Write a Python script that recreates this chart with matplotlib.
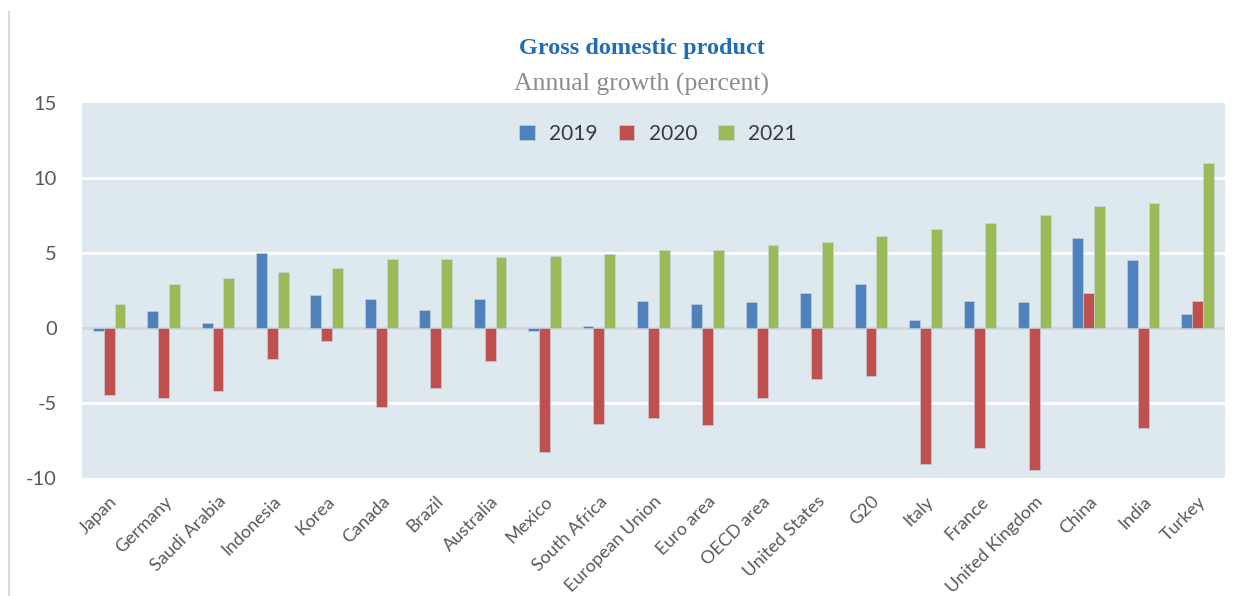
import numpy as np
import matplotlib
matplotlib.use("Agg")
import matplotlib.pyplot as plt
from matplotlib.lines import Line2D

# Data
countries = ["Japan", "Germany", "Saudi Arabia", "Indonesia", "Korea", "Canada",
             "Brazil", "Australia", "Mexico", "South Africa", "European Union",
             "Euro area", "OECD area", "United States", "G20", "Italy", "France",
             "United Kingdom", "China", "India", "Turkey"]
gdp_2019 = [-0.2, 1.1, 0.3, 5.0, 2.2, 1.9, 1.2, 1.9, -0.2, 0.1, 1.8,
            1.6, 1.7, 2.3, 2.9, 0.5, 1.8, 1.7, 6.0, 4.5, 0.9]
gdp_2020 = [-4.5, -4.7, -4.2, -2.1, -0.9, -5.3, -4.0, -2.2, -8.3, -6.4, -6.0,
            -6.5, -4.7, -3.4, -3.2, -9.1, -8.0, -9.5, 2.3, -6.7, 1.8]
gdp_2021 = [1.6, 2.9, 3.3, 3.7, 4.0, 4.6, 4.6, 4.7, 4.8, 4.9, 5.2,
            5.2, 5.5, 5.7, 6.1, 6.6, 7.0, 7.5, 8.1, 8.3, 11.0]
years = ["2019", "2020", "2021"]
colors = ["#4F81BD", "#C0504D", "#9BBB59"]
yticks = [-10, -5, 0, 5, 10, 15]

plt.rcParams["font.family"] = ["Lato", "DejaVu Sans"]

fig = plt.figure(figsize=(12.51, 5.96), dpi=100)
ax = fig.add_axes([0.0655, 0.198, 0.9135, 0.6292])
ax.set_facecolor("#DEE8EF")

x = np.arange(len(countries))
w = 0.2
for i, (vals, lab, col) in enumerate(zip([gdp_2019, gdp_2020, gdp_2021], years, colors)):
    ax.bar(x + (i - 1) * w, vals, width=w, color=col, label=lab, zorder=3,
           edgecolor="#C9D6E2", linewidth=0.4)

ax.set_xlim(-0.5, len(countries) - 0.5)
ax.set_ylim(-10, 15)
ax.set_yticks(yticks)
ax.set_yticklabels([str(t) for t in yticks])
for t in [-5, 5, 10]:
    ax.axhline(t, color="white", linewidth=2, zorder=1)
ax.axhline(0, color="#D6D6D6", linewidth=2, zorder=2)

for s in ax.spines.values():
    s.set_visible(False)
ax.tick_params(axis="y", length=0, pad=18, labelsize=14.5, labelcolor="#595959")
ax.tick_params(axis="x", length=0, pad=11, labelcolor="#595959")
ax.set_xticks(x)
ax.set_xticklabels(countries, rotation=45, ha="right", rotation_mode="anchor",
                   fontsize=13)

leg = ax.legend(loc="upper center", bbox_to_anchor=(0.504, 0.995), ncol=3, frameon=False,
                fontsize=15, handlelength=0.75, handleheight=0.75,
                handletextpad=0.7, columnspacing=1.0)
for t in leg.get_texts():
    t.set_color("#3A3A3A")

fig.text(0.513, 0.918, "Gross domestic product", ha="center", va="center",
         fontsize=17.5, fontweight="bold", color="#1F6DB4", family="Liberation Serif")
fig.text(0.513, 0.858, "Annual growth (percent)", ha="center", va="center",
         fontsize=18.5, color="#8C8C8C", family="Liberation Serif")

fig.add_artist(Line2D([0.0072, 0.0072], [0.0, 0.98], color="#D9D9D9", linewidth=1.5,
                      transform=fig.transFigure))

fig.savefig("out.png", dpi=100, facecolor="white")
